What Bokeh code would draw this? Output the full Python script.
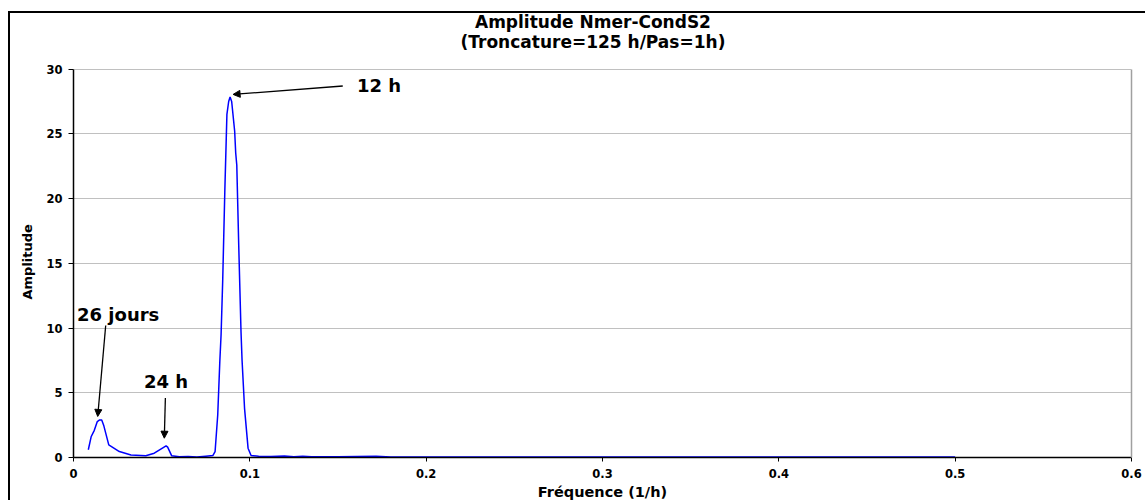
from bokeh.plotting import figure
from bokeh.models import Range1d, FixedTicker, Label, Arrow, NormalHead, LinearAxis, Title
from bokeh.embed import file_html
from bokeh.resources import INLINE

# ---- data ----
freq = [0.0084, 0.0100, 0.0118, 0.0135, 0.0148, 0.0160, 0.0171, 0.0200, 0.0260, 0.0326,
        0.0410, 0.0458, 0.0525, 0.0534, 0.0557, 0.0600, 0.0650, 0.0700, 0.0750, 0.0790,
        0.0803, 0.0818, 0.0830, 0.0837, 0.0846, 0.0858, 0.0866, 0.0870, 0.0880, 0.0888,
        0.0897, 0.0914, 0.0920, 0.0926, 0.0937, 0.0950, 0.0956, 0.0970, 0.0990, 0.1007,
        0.1050, 0.1120, 0.1196, 0.1250, 0.1300, 0.1350, 0.1500, 0.1716, 0.1800, 0.2500,
        0.3500, 0.4500, 0.5000]
amplitude = [0.6, 1.6, 2.1, 2.78, 2.9, 2.9, 2.5, 0.98, 0.46, 0.2,
             0.13, 0.33, 0.9, 0.8, 0.13, 0.05, 0.08, 0.03, 0.1, 0.15,
             0.46, 3.3, 7.5, 9.5, 13.6, 20.5, 24.5, 26.5, 27.5, 27.85,
             27.5, 25.2, 23.5, 22.6, 16.4, 9.7, 7.5, 3.8, 0.72, 0.15,
             0.1, 0.08, 0.12, 0.05, 0.1, 0.05, 0.05, 0.1, 0.04, 0.03,
             0.03, 0.03, 0.03]

x_ticks = [0, 0.1, 0.2, 0.3, 0.4, 0.5, 0.6]
x_tick_labels = ["0", "0.1", "0.2", "0.3", "0.4", "0.5", "0.6"]
y_ticks = [0, 5, 10, 15, 20, 25, 30]

title_lines = ["Amplitude Nmer-CondS2", "(Troncature=125 h/Pas=1h)"]
x_label = "Fréquence (1/h)"
y_label = "Amplitude"

# annotation texts with anchor (text position) and arrow start/end in data units
ann_texts = ["12 h", "26 jours", "24 h"]
ann_text_x = [0.1608, 0.0020, 0.0400]
ann_text_y = [28.77, 11.06, 5.88]
arrow_x0 = [0.1527, 0.01826, 0.0521]
arrow_y0 = [28.70, 10.20, 4.59]
arrow_x1 = [0.0905, 0.01373, 0.0515]
arrow_y1 = [28.05, 3.17, 1.49]

FONT = "DejaVu Sans"
X_MAX = 0.6
Y_MAX = 30
Y_TOP = 34.3      # room above the plot area for the title
TITLE_X = 0.2946
TITLE_Y = [33.62, 32.07]

p = figure(width=1137, height=489, output_backend="svg", toolbar_location=None,
           title=None,
           x_range=Range1d(0, X_MAX), y_range=Range1d(0, Y_TOP),
           min_border_left=63, min_border_right=16, min_border_top=0, min_border_bottom=44)
p.styles = {"margin-left": "8px", "margin-top": "11px",
            "border-left": "2px solid #000000", "border-top": "2px solid #000000"}

p.outline_line_color = None
p.xgrid.grid_line_color = None
p.ygrid.grid_line_color = "#c0c0c0"
p.ygrid.grid_line_width = 1

p.xaxis.ticker = FixedTicker(ticks=x_ticks)
p.xaxis.major_label_overrides = {t: l for t, l in zip(x_ticks, x_tick_labels)}
p.yaxis.ticker = FixedTicker(ticks=y_ticks)
p.yaxis.bounds = (0, Y_MAX)
for ax in (p.xaxis, p.yaxis):
    ax.axis_line_color = "#000000"
    ax.axis_line_width = 1.5
    ax.major_tick_line_color = "#000000"
    ax.major_tick_in = 0
    ax.minor_tick_line_color = None
    ax.major_label_text_font = FONT
    ax.major_label_text_font_style = "bold"
    ax.major_label_text_font_size = "11.5px"
    ax.major_label_text_color = "#000000"
p.xaxis.major_tick_out = 4
p.yaxis.major_tick_out = 5
p.xaxis.major_label_standoff = 7
p.yaxis.major_label_standoff = 6
p.xaxis.axis_label = x_label
p.xaxis.axis_label_text_font = FONT
p.xaxis.axis_label_text_font_style = "bold"
p.xaxis.axis_label_text_font_size = "14.5px"
p.xaxis.axis_label_text_color = "#000000"
p.xaxis.axis_label_standoff = 3

# y-axis title centred on the 0-30 part of the axis (a left-side title)
p.add_layout(Title(text=y_label, align="left", offset=158, vertical_align="top",
                   standoff=14, text_font=FONT, text_font_style="bold",
                   text_font_size="13px", text_color="#000000"), "left")

# gray right border of the plot area (an axis with no ticks)
right_border = LinearAxis(ticker=FixedTicker(ticks=[]), bounds=(0, Y_MAX),
                          axis_line_color="#a0a0a0", axis_line_width=1.5,
                          major_tick_line_color=None, minor_tick_line_color=None)
p.add_layout(right_border, "right")

p.line(freq, amplitude, line_color="#0000FF", line_width=1.5)

for t, ty in zip(title_lines, TITLE_Y):
    p.add_layout(Label(x=TITLE_X, y=ty, text=t, text_align="center", text_baseline="middle",
                       text_font=FONT, text_font_style="bold", text_font_size="17px",
                       text_color="#000000"))

for t, tx, ty, x0, y0, x1, y1 in zip(ann_texts, ann_text_x, ann_text_y,
                                      arrow_x0, arrow_y0, arrow_x1, arrow_y1):
    p.add_layout(Label(x=tx, y=ty, text=t, text_align="left", text_baseline="middle",
                       text_font=FONT, text_font_style="bold", text_font_size="18px",
                       text_color="#000000"))
    p.add_layout(Arrow(x_start=x0, y_start=y0, x_end=x1, y_end=y1,
                       line_color="#000000", line_width=1.3,
                       end=NormalHead(size=7, fill_color="#000000", line_color="#000000")))

open("out.html", "w").write(file_html(p, INLINE))
